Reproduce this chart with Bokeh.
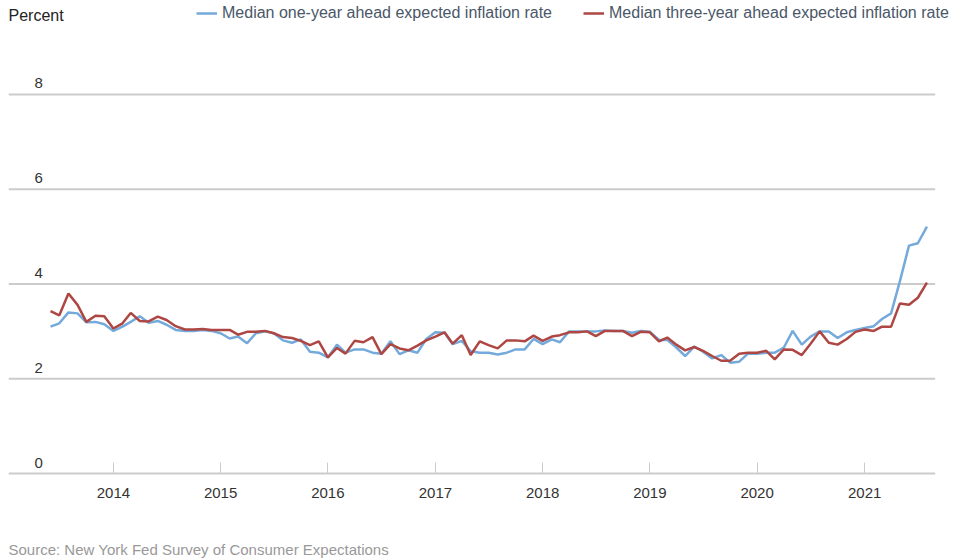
import pandas as pd
from bokeh.plotting import figure
from bokeh.models import (Range1d, FixedTicker, DatetimeTickFormatter, Legend, LegendItem,
                          Label, ColumnDataSource)
from bokeh.core.properties import value
from bokeh.embed import file_html
from bokeh.resources import INLINE

# ---- data (monthly, June 2013 - August 2021) ----
start_month = "2013-06-01"
one_year = [
    3.10, 3.17, 3.40, 3.38, 3.19, 3.20, 3.15, 3.01, 3.10, 3.20, 3.32, 3.18,
    3.22, 3.14, 3.03, 3.01, 3.01, 3.03, 3.01, 2.96, 2.85, 2.89, 2.75, 2.96,
    3.00, 2.96, 2.81, 2.76, 2.83, 2.57, 2.55, 2.45, 2.72, 2.55, 2.62, 2.62,
    2.55, 2.53, 2.79, 2.52, 2.60, 2.55, 2.84, 2.98, 2.97, 2.73, 2.80, 2.58,
    2.55, 2.55, 2.51, 2.55, 2.62, 2.62, 2.84, 2.73, 2.83, 2.77, 3.00, 3.00,
    3.00, 3.00, 3.02, 3.01, 3.01, 2.97, 3.01, 2.99, 2.82, 2.82, 2.66, 2.48,
    2.68, 2.57, 2.43, 2.50, 2.34, 2.36, 2.53, 2.53, 2.55, 2.55, 2.66, 3.01,
    2.72, 2.89, 3.00, 3.00, 2.86, 2.98, 3.03, 3.07, 3.11, 3.26, 3.38, 4.06,
    4.81, 4.86, 5.21,
]
three_year = [
    3.43, 3.34, 3.80, 3.56, 3.20, 3.33, 3.32, 3.06, 3.17, 3.39, 3.22, 3.21,
    3.31, 3.24, 3.11, 3.04, 3.04, 3.05, 3.03, 3.03, 3.03, 2.93, 2.99, 2.99,
    3.01, 2.96, 2.88, 2.86, 2.80, 2.71, 2.79, 2.45, 2.65, 2.53, 2.80, 2.77,
    2.88, 2.52, 2.73, 2.64, 2.60, 2.70, 2.81, 2.89, 2.98, 2.74, 2.92, 2.50,
    2.79, 2.71, 2.64, 2.81, 2.81, 2.79, 2.91, 2.80, 2.89, 2.92, 2.98, 2.98,
    3.00, 2.90, 3.01, 3.01, 3.01, 2.90, 2.99, 2.98, 2.79, 2.87, 2.72, 2.60,
    2.67, 2.59, 2.48, 2.38, 2.38, 2.53, 2.55, 2.55, 2.59, 2.41, 2.62, 2.61,
    2.50, 2.74, 3.00, 2.76, 2.72, 2.84, 2.99, 3.04, 3.01, 3.10, 3.10, 3.59,
    3.56, 3.71, 4.03,
]
year_ticks = [2014, 2015, 2016, 2017, 2018, 2019, 2020, 2021]
y_ticks = [0, 2, 4, 6, 8]
series_names = ["Median one-year ahead expected inflation rate",
                "Median three-year ahead expected inflation rate"]
source_text = "Source: New York Fed Survey of Consumer Expectations"

dates = pd.date_range(start_month, periods=len(one_year), freq="MS")
src = ColumnDataSource(dict(date=dates, one=one_year, three=three_year))

x_start = pd.Timestamp("2013-01-09")
x_end = pd.Timestamp("2021-10-27")
grid_end = pd.Timestamp("2021-08-29")

FONT = "Liberation Sans"

# the plot area covers the whole page height; the x axis is pinned at y = 0
p = figure(width=960, height=558, output_backend="svg", toolbar_location=None,
           x_axis_type="datetime", y_axis_location=None,
           x_range=Range1d(x_start, x_end), y_range=Range1d(-1.794, 9.984),
           min_border_left=8, min_border_right=8, min_border_top=0,
           min_border_bottom=0)
p.outline_line_color = None
p.background_fill_color = "white"
p.border_fill_color = "white"

# horizontal gridlines (end short of the right edge, as in the reference)
p.xgrid.visible = False
p.ygrid.visible = False
p.segment(x0=[x_start] * len(y_ticks), y0=y_ticks, x1=[grid_end] * len(y_ticks),
          y1=y_ticks, line_color="#cccccc", line_width=1.8)

# x axis
tick_ms = [pd.Timestamp(f"{y}-01-01").value // 10**6 for y in year_ticks]
xa = p.xaxis[0]
xa.fixed_location = 0
xa.ticker = FixedTicker(ticks=tick_ms)
xa.formatter = DatetimeTickFormatter(years="%Y", months="%Y", days="%Y", hours="%Y",
                                     hourmin="%Y", minutes="%Y", minsec="%Y",
                                     seconds="%Y", milliseconds="%Y", microseconds="%Y")
xa.axis_line_color = None
xa.major_tick_line_color = "#cccccc"
xa.major_tick_line_width = 1
xa.major_tick_in = 11
xa.major_tick_out = 0
xa.minor_tick_line_color = None
xa.major_label_standoff = 14
xa.major_label_text_font = FONT
xa.major_label_text_font_size = "15px"
xa.major_label_text_color = "#333333"

# y labels, drawn inside the plot above the gridlines
p.text(x=[x_start] * len(y_ticks), y=y_ticks, text=[str(t) for t in y_ticks],
       x_offset=26, y_offset=-6, text_baseline="bottom", text_align="left",
       text_font=value(FONT), text_font_size="15px", text_color="#333333")

# lines
r1 = p.line("date", "one", source=src, line_color="#74aadb", line_width=2.5)
r2 = p.line("date", "three", source=src, line_color="#ae4743", line_width=2.5)

legend = Legend(items=[LegendItem(label=series_names[0], renderers=[r1]),
                       LegendItem(label=series_names[1], renderers=[r2])],
                orientation="horizontal", location=(188, 536),
                border_line_alpha=0, background_fill_alpha=0,
                padding=0, margin=0, spacing=31, glyph_width=21, glyph_height=16,
                label_standoff=5, label_height=16,
                label_text_font=FONT, label_text_font_size="16px",
                label_text_color="#4a5768")
p.add_layout(legend, "center")

p.add_layout(Label(x=0, y=543, x_units="screen", y_units="screen", text="Percent",
                   text_font=FONT, text_font_size="16px", text_color="#222222",
                   text_baseline="middle", text_align="left"))
p.add_layout(Label(x=0, y=9, x_units="screen", y_units="screen", text=source_text,
                   text_font=FONT, text_font_size="15px", text_color="#999999",
                   text_baseline="middle", text_align="left"))

open("out.html", "w").write(file_html(p, INLINE))
